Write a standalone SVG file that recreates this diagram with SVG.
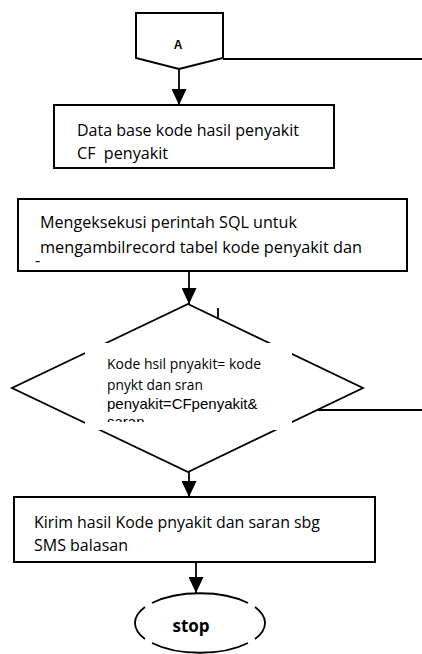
<svg xmlns="http://www.w3.org/2000/svg" width="422" height="654" viewBox="0 0 422 654">
<style>
.box{fill:#fff;stroke:#000;stroke-width:2}
.ln{fill:none;stroke:#000;stroke-width:1.8}
.cal{font-family:"Open Sans","Liberation Sans",sans-serif;font-size:16.5px;fill:#000}
.calS{font-family:"Open Sans","Liberation Sans",sans-serif;font-size:14.4px;fill:#000}
.ari{font-family:"Liberation Sans",Arial,sans-serif;font-size:15px;fill:#000}
</style>
<defs>
<marker id="ah" viewBox="0 0 16 15" refX="16" refY="7.5" markerWidth="16" markerHeight="15" markerUnits="userSpaceOnUse" orient="auto">
<path d="M0,0 L16,7.5 L0,15 z" fill="#000"/>
</marker>
<clipPath id="dclip"><rect x="85" y="343" width="207" height="79"/></clipPath>
</defs>
<rect width="422" height="654" fill="#fff"/>

<g id="connectors">
<line class="ln" x1="223" y1="59" x2="422" y2="59"/>
<line class="ln" x1="179" y1="69" x2="179" y2="105" marker-end="url(#ah)"/>
<line class="ln" x1="189" y1="271" x2="189" y2="304" marker-end="url(#ah)"/>
<line class="ln" x1="189" y1="472" x2="189" y2="497" marker-end="url(#ah)"/>
<line class="ln" x1="196" y1="562" x2="196" y2="593" marker-end="url(#ah)"/>
<line class="ln" x1="318" y1="410" x2="422" y2="410"/>
<line class="ln" x1="218" y1="308" x2="218" y2="318"/>
</g>

<g id="nodeA">
<polygon class="box" points="136,13 223,13 223,58 179,69 136,58"/>
<text x="178" y="49" text-anchor="middle" style="font-family:'Liberation Sans',Arial,sans-serif;font-size:12px;font-weight:bold">A</text>
</g>

<g id="box1">
<rect class="box" x="54" y="105" width="280" height="63"/>
<text class="cal" x="77" y="136" textLength="222" lengthAdjust="spacingAndGlyphs">Data base kode hasil penyakit</text>
<text class="cal" x="77" y="159" xml:space="preserve" textLength="91" lengthAdjust="spacingAndGlyphs">CF  penyakit</text>
</g>

<g id="box2">
<rect class="box" x="18" y="199" width="389" height="72"/>
<text class="cal" x="40" y="228" textLength="257" lengthAdjust="spacingAndGlyphs">Mengeksekusi perintah SQL untuk</text>
<text class="cal" x="40" y="253" textLength="322" lengthAdjust="spacingAndGlyphs">mengambilrecord tabel kode penyakit dan</text>
<text class="cal" x="35" y="266">-</text>
</g>

<g id="decision">
<polygon class="ln" points="188,304 363,388 188,472 12,388"/>
<rect x="85" y="343" width="207" height="87" fill="#fff"/>
<g clip-path="url(#dclip)">
<text class="calS" x="107" y="369" textLength="154" lengthAdjust="spacingAndGlyphs">Kode hsil pnyakit= kode</text>
<text class="calS" x="107" y="390" textLength="96" lengthAdjust="spacingAndGlyphs">pnykt dan sran</text>
<text class="ari" x="107" y="409">penyakit=CFpenyakit&amp;</text>
<text class="ari" x="107" y="427">saran</text>
</g>
</g>

<g id="box3">
<rect class="box" x="14" y="497" width="361" height="65"/>
<text class="cal" x="34" y="528" textLength="286" lengthAdjust="spacingAndGlyphs">Kirim hasil Kode pnyakit dan saran sbg</text>
<text class="cal" x="34" y="551" textLength="94" lengthAdjust="spacingAndGlyphs">SMS balasan</text>
</g>

<g id="stop">
<path class="ln" d="M152,603 A65,30 0 0 1 248,603 M255,607 A65,30 0 0 1 255,639 M248,643 A65,30 0 0 1 152,643 M145,639 A65,30 0 0 1 145,607"/>
<text x="191" y="632" text-anchor="middle" style="font-family:'Open Sans','Liberation Sans',sans-serif;font-size:17px;font-weight:bold">stop</text>
</g>
</svg>
